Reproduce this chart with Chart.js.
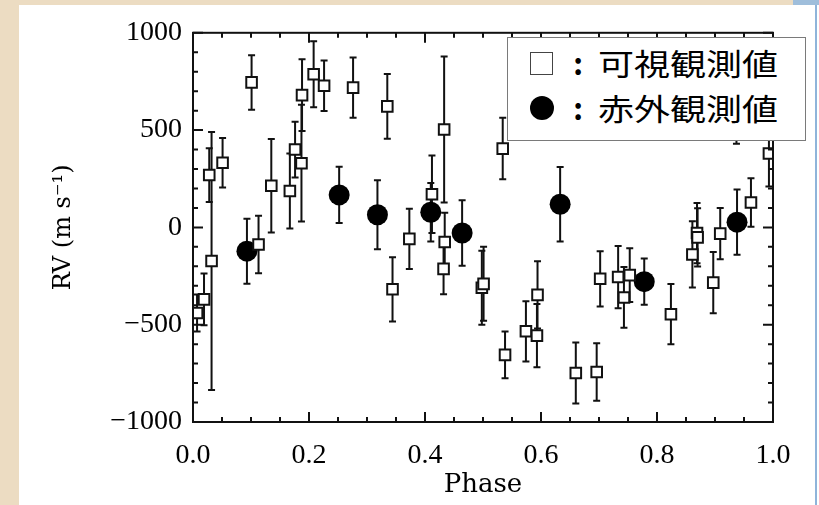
<!DOCTYPE html>
<html lang="ja">

<head>
    <meta charset="UTF-8">
    <meta name="viewport" content="width=device-width, initial-scale=1.0">
    <title>RV Phase</title>
    <style>
        body { margin: 0; width: 819px; height: 505px; background: #ecdcc2; position: relative; overflow: hidden; }
        #topBlue { position: absolute; left: 793px; top: 0; width: 26px; height: 5px; background: #9fbedb; }
        #panel { position: absolute; left: 19px; top: 5px; width: 800px; height: 500px; background: #fff; }
        #rightLine { position: absolute; left: 796px; top: 0; width: 2px; height: 500px; background: #8fb4da; }
        #chartBox { position: absolute; left: 0; top: 0; width: 796px; height: 500px; }
        #legendBox { position: absolute; left: 488px; top: 32px; width: 297px; height: 102px; border: 1px solid #7a7a7a; background: #fff; }
        .sym { position: absolute; left: 22px; }
        .sq { top: 14px; width: 21px; height: 21px; border: 1px solid #444; background: #fff; }
        .dot { top: 58px; width: 24px; height: 24px; border-radius: 50%; background: #000; }
        .txt { position: absolute; font-family: "Noto Sans CJK JP"; font-size: 30px; line-height: 30px; color: #000; white-space: nowrap; }
        .colon { left: 63px; width: 14px; text-align: center; font-weight: bold; }
        .name { left: 90px; transform: scaleX(1.2); transform-origin: left center; }
    </style>
</head>

<body>
    <div id="topBlue"></div>
    <div id="panel">
        <div id="chartBox">
            <canvas id="myChart"></canvas>
        </div>
        <div id="rightLine"></div>
        <div id="legendBox">
            <div class="sym sq"></div>
            <div class="txt colon" style="top: 9px;">:</div>
            <div class="txt name" style="top: 9px;">可視観測値</div>
            <div class="sym dot"></div>
            <div class="txt colon" style="top: 54px;">:</div>
            <div class="txt name" style="top: 54px;">赤外観測値</div>
        </div>
    </div>

    <script src="https://cdn.jsdelivr.net/npm/chart.js"></script>
    <script>
        // 可視観測 (open squares)
        let v_visPhase = [0.007, 0.019, 0.028, 0.032, 0.051, 0.101, 0.113, 0.135, 0.167, 0.176, 0.187,
            0.188, 0.208, 0.226, 0.276, 0.335, 0.344, 0.373, 0.412, 0.433, 0.434, 0.432, 0.498, 0.501,
            0.534, 0.538, 0.574, 0.594, 0.593, 0.660, 0.696, 0.702, 0.733, 0.743, 0.753, 0.824, 0.861,
            0.869, 0.870, 0.897, 0.909, 0.962, 0.937, 0.993];
        let v_visRV = [-440, -370, 269, -173, 332, 745, -88, 214, 187, 400, 330,
            680, 787, 728, 718, 622, -318, -59, 170, 503, -75, -213, -310, -290,
            405, -655, -534, -347, -556, -748, -743, -264, -255, -360, -245, -446, -139,
            -29, -51, -284, -32, 128, 620, 380];
        let v_visErr = [95, 133, 138, 663, 127, 140, 148, 240, 193, 143, 300,
            184, 170, 130, 155, 166, 165, 155, 199, 375, 150, 130, 190, 190,
            158, 120, 155, 173, 163, 157, 148, 142, 160, 156, 138, 155, 170,
            155, 150, 157, 132, 125, 190, 170];

        // 赤外観測 (filled circles)
        let v_irPhase = [0.093, 0.252, 0.318, 0.410, 0.464, 0.633, 0.778, 0.938];
        let v_irRV = [-122, 167, 65, 78, -29, 119, -279, 27];
        let v_irErr = [167, 145, 177, 150, 168, 191, 119, 168];

        let v_xTickLabels = ['0.0', '0.2', '0.4', '0.6', '0.8', '1.0'];
        let v_yTickLabels = ['\u22121000', '\u2212500', '0', '500', '1000'];

        let v_visData = [];
        for (let i = 0; i < v_visPhase.length; i++) {
            v_visData.push({ x: v_visPhase[i], y: v_visRV[i] });
        }
        let v_irData = [];
        for (let i = 0; i < v_irPhase.length; i++) {
            v_irData.push({ x: v_irPhase[i], y: v_irRV[i] });
        }

        // error bars, drawn under the markers
        const errorBars = {
            id: 'errorBars',
            beforeDatasetsDraw(chart) {
                const c = chart.ctx;
                const xs = chart.scales.x, ys = chart.scales.y;
                c.save();
                c.strokeStyle = '#111';
                c.lineWidth = 2;
                chart.data.datasets.forEach((ds) => {
                    ds.data.forEach((p, i) => {
                        let px = xs.getPixelForValue(p.x);
                        let top = ys.getPixelForValue(p.y + ds.err[i]);
                        let bot = ys.getPixelForValue(p.y - ds.err[i]);
                        c.beginPath();
                        c.moveTo(px, top); c.lineTo(px, bot);
                        c.moveTo(px - 3.5, top); c.lineTo(px + 3.5, top);
                        c.moveTo(px - 3.5, bot); c.lineTo(px + 3.5, bot);
                        c.stroke();
                    });
                });
                c.restore();
            }
        };

        // box frame with inward ticks on all four sides
        const idlFrame = {
            id: 'idlFrame',
            afterDatasetsDraw(chart) {
                const c = chart.ctx;
                const a = chart.chartArea;
                const xs = chart.scales.x, ys = chart.scales.y;
                c.save();
                c.strokeStyle = '#111';
                c.lineWidth = 2;
                c.strokeRect(a.left, a.top, a.right - a.left, a.bottom - a.top);
                c.beginPath();
                for (let i = 0; i <= 20; i++) {
                    let px = xs.getPixelForValue(i * 0.05);
                    let len = (i % 4 == 0) ? 10 : 5;
                    c.moveTo(px, a.bottom); c.lineTo(px, a.bottom - len);
                    c.moveTo(px, a.top); c.lineTo(px, a.top + len);
                }
                for (let i = 0; i <= 20; i++) {
                    let py = ys.getPixelForValue(-1000 + i * 100);
                    let len = (i % 5 == 0) ? 10 : 5;
                    c.moveTo(a.left, py); c.lineTo(a.left + len, py);
                    c.moveTo(a.right, py); c.lineTo(a.right - len, py);
                }
                c.stroke();
                c.restore();
            }
        };

        const ctx = document.querySelector("#myChart")
        new Chart(ctx, {
            type: 'scatter',
            data: {
                datasets: [{
                    label: '可視観測値',
                    data: v_visData,
                    err: v_visErr,
                    pointStyle: 'rect',
                    pointRadius: 7.5,
                    backgroundColor: '#fff',
                    borderColor: '#111',
                    borderWidth: 2
                }, {
                    label: '赤外観測値',
                    data: v_irData,
                    err: v_irErr,
                    pointStyle: 'circle',
                    pointRadius: 10.5,
                    backgroundColor: '#000',
                    borderColor: '#000',
                    borderWidth: 0
                }]
            },
            options: {
                responsive: true,
                maintainAspectRatio: false,
                animation: false,
                layout: { padding: { top: 25, right: 42, left: 0, bottom: 0 }, autoPadding: false },
                plugins: { legend: { display: false }, tooltip: { enabled: false } },
                scales: {
                    x: {
                        min: 0, max: 1,
                        grid: { display: false, drawTicks: false },
                        border: { display: false },
                        ticks: {
                            stepSize: 0.2,
                            padding: 17,
                            color: '#000',
                            font: { family: 'Liberation Serif', size: 28 },
                            callback: (v) => v_xTickLabels[Math.round(v / 0.2)]
                        },
                        title: {
                            display: true, text: 'Phase', color: '#000',
                            font: { family: 'DejaVu Serif', size: 26 },
                            padding: { top: 0, bottom: 4 }
                        },
                        afterFit: (s) => { s.height = 83; }
                    },
                    y: {
                        min: -1000, max: 1000,
                        grid: { display: false, drawTicks: false },
                        border: { display: false },
                        ticks: {
                            stepSize: 500,
                            padding: 11,
                            color: '#000',
                            font: { family: 'Liberation Serif', size: 28 },
                            callback: (v) => v_yTickLabels[Math.round((v + 1000) / 500)]
                        },
                        title: {
                            display: true, text: 'RV (m s\u207B\u00B9)', color: '#000',
                            font: { family: 'DejaVu Serif', size: 24 },
                            padding: { top: 30, bottom: 0 }
                        },
                        afterFit: (s) => { s.width = 174; }
                    }
                }
            },
            plugins: [errorBars, idlFrame]
        })
    </script>

</body>

</html>
